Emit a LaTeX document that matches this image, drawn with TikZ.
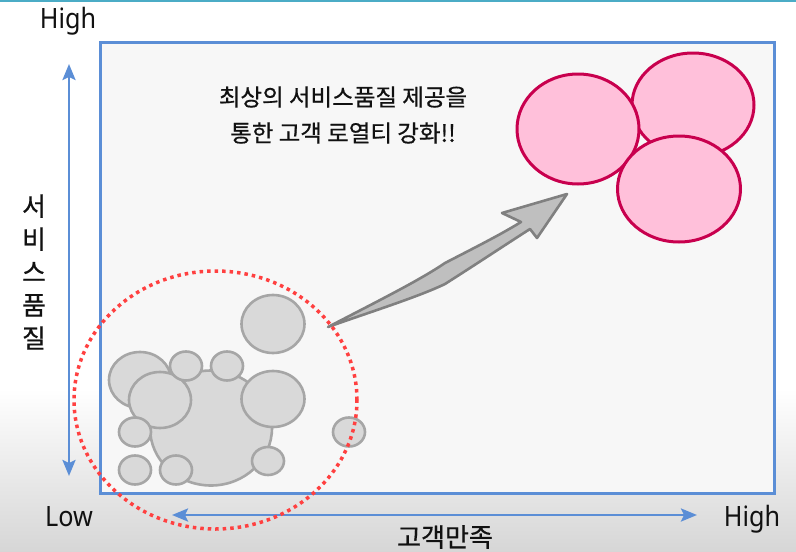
\documentclass[tikz,border=0pt]{standalone}
\usepackage{fontspec}
\setmainfont{Noto Sans}
\newfontfamily\kr[FakeBold=0.6]{Noto Sans CJK KR}
\usetikzlibrary{arrows.meta,shapes.geometric}
\definecolor{axisblue}{HTML}{5B8ED6}
\definecolor{topline}{HTML}{4BACC6}
\definecolor{panelfill}{HTML}{F7F7F7}
\definecolor{bggray}{HTML}{D6D6D6}
\definecolor{pinkfill}{HTML}{FFC0DA}
\definecolor{pinkline}{HTML}{C8004E}
\definecolor{grayfill}{HTML}{D9D9D9}
\definecolor{grayline}{HTML}{A6A6A6}
\definecolor{arrowfill}{HTML}{BFBFBF}
\definecolor{arrowline}{HTML}{808080}
\definecolor{reddot}{HTML}{FF4040}
\definecolor{txt}{HTML}{111111}
\tikzset{
  pinkblob/.style={ellipse, draw=pinkline, fill=pinkfill, line width=3pt, inner sep=0pt},
  grayblob/.style={ellipse, draw=grayline, fill=grayfill, line width=2.6pt, inner sep=0pt},
  axisline/.style={draw=axisblue, line width=2.6pt, {Stealth[length=16pt,width=13pt,inset=3pt]}-{Stealth[length=16pt,width=13pt,inset=3pt]}},
  latin/.style={font=\fontsize{28}{32}\selectfont, text=txt, inner sep=0pt},
}
\begin{document}
\begin{tikzpicture}[x=1pt,y=-1pt]
\useasboundingbox (0,0) rectangle (796,552);
% background
\fill[white] (0,0) rectangle (796,390);
\shade[top color=white,bottom color=bggray] (0,389) rectangle (796,552);
\draw[topline, line width=2pt] (0,0.8) -- (796,0.8);
% panel
\node[draw=axisblue, fill=panelfill, line width=2.6pt, minimum width=674pt, minimum height=451pt, inner sep=0pt, anchor=north west] (panel) at (99,41) {};
% axes
\coordinate (vtop) at (69,64);
\coordinate (vbot) at (69,476);
\coordinate (hleft) at (172,515);
\coordinate (hright) at (697,515);
\draw[axisline] (vbot) -- (vtop);
\draw[axisline] (hleft) -- (hright);
% labels
\node[latin] (hightop) at (68,21) {\scalebox{0.9}[1]{High}};
\node[latin] (low) at (69,517) {\scalebox{0.9}[1]{Low}};
\node[latin] (highright) at (752,519) {\scalebox{0.9}[1]{High}};
\node[font=\kr\fontsize{26}{30}\selectfont, text=txt, inner sep=0pt] (xlabel) at (445,537) {고객만족};
\node[font=\kr\fontsize{26}{33}\selectfont, text=txt, align=center, inner sep=0pt] (ylabel) at (34,272) {서\\비\\스\\품\\질};
\node[font=\kr\fontsize{23.5}{36}\selectfont, text=txt, align=center, inner sep=0pt] (title) at (343,115) {최상의 서비스품질 제공을\\통한 고객 로열티 강화!!};
% pink circles
\node[pinkblob, minimum width=122pt, minimum height=104pt] (p2) at (693,105) {};
\node[pinkblob, minimum width=122pt, minimum height=110pt] (p1) at (578,129) {};
\node[pinkblob, minimum width=123pt, minimum height=106pt] (p3) at (679,189) {};
% gray circles
\node[grayblob, minimum width=62pt, minimum height=56pt] (g1) at (140,380) {};
\node[grayblob, minimum width=122pt, minimum height=115pt] (g0) at (211,428) {};
\node[grayblob, minimum width=62pt, minimum height=56pt] (g2) at (160,400) {};
\node[grayblob, minimum width=32pt, minimum height=29pt] (g3) at (186,366) {};
\node[grayblob, minimum width=32pt, minimum height=29pt] (g4) at (227,366) {};
\node[grayblob, minimum width=63pt, minimum height=56pt] (g5) at (273,399) {};
\node[grayblob, minimum width=63pt, minimum height=58pt] (g6) at (273,324) {};
\node[grayblob, minimum width=32pt, minimum height=29pt] (g7) at (135,432) {};
\node[grayblob, minimum width=32pt, minimum height=29pt] (g8) at (135,470) {};
\node[grayblob, minimum width=32pt, minimum height=29pt] (g9) at (176,470) {};
\node[grayblob, minimum width=32pt, minimum height=28pt] (g10) at (268,461) {};
\node[grayblob, minimum width=32pt, minimum height=29pt] (g11) at (349,432) {};
% big gray arrow
\filldraw[fill=arrowfill, draw=arrowline, line width=2.6pt, line join=round]
  (328,327) .. controls (380,300) and (420,280) .. (445,263)
  .. controls (472,249) and (500,235) .. (521,222)
  -- (502,213) -- (567,194) -- (537,238) -- (530,229)
  .. controls (505,245) and (478,263) .. (445,284)
  .. controls (418,297) and (370,312) .. (328,327) -- cycle;
% red dotted zone
\node[ellipse, draw=reddot, line width=3.5pt, dash pattern=on 3.5pt off 4pt, minimum width=283pt, minimum height=258pt, inner sep=0pt] (zone) at (215.5,400) {};
\end{tikzpicture}
\end{document}
